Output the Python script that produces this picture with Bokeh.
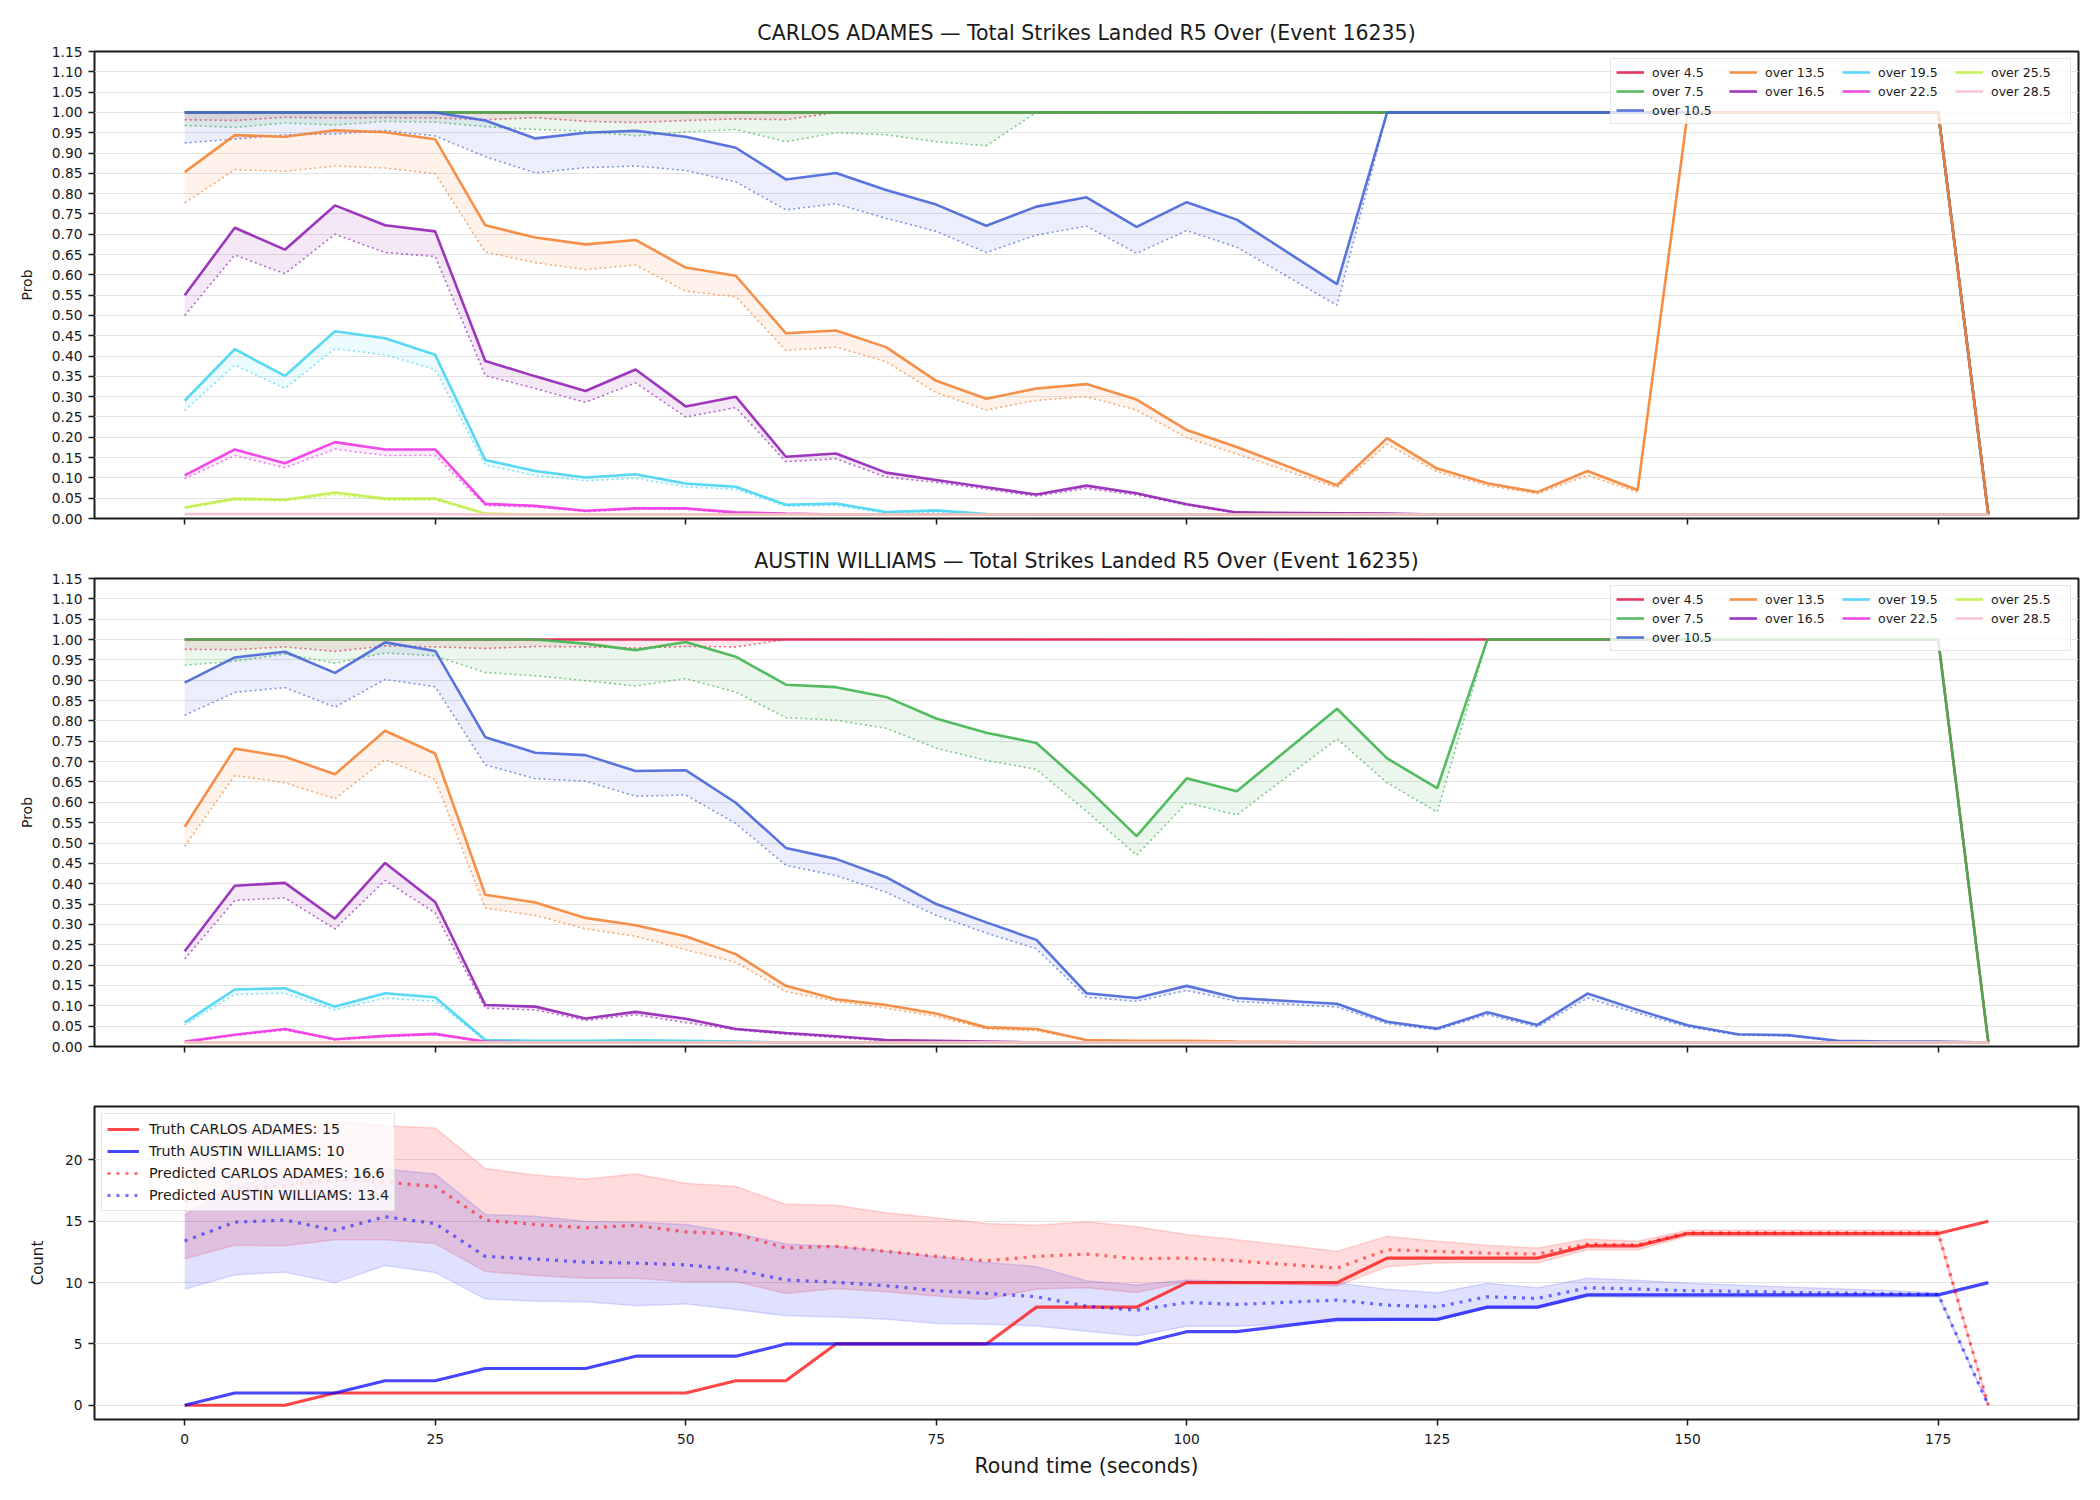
from bokeh.plotting import figure
from bokeh.layouts import column
from bokeh.models import (ColumnDataSource, Legend, LegendItem, FixedTicker,
                          PrintfTickFormatter, Range1d)
from bokeh.embed import file_html
from bokeh.resources import INLINE

FONT = "DejaVu Sans"
INK = "#1a1a1a"

# ---------------------------------------------------------------- data
# round clock (seconds); no sample was taken at 110 s
times = [0, 5, 10, 15, 20, 25, 30, 35, 40, 45, 50, 55, 60, 65, 70, 75, 80, 85,
         90, 95, 100, 105, 115, 120, 125, 130, 135, 140, 145, 150, 155, 160,
         165, 170, 175, 180]

thresholds = [4.5, 7.5, 10.5, 13.5, 16.5, 19.5, 22.5, 25.5, 28.5]
line_colors = ["#e6194b", "#3cb44b", "#4363d8", "#f58231", "#911eb4",
               "#42d4f4", "#f032e6", "#bfef45", "#fabed4"]

# CARLOS ADAMES: probability of going over each line (solid) and lower estimate (dotted)
ca_45 = [1.0] * 35 + [0.01]
ca_45_d = [0.982, 0.980, 0.988, 0.986, 0.987, 0.986, 0.982, 0.987, 0.978, 0.975,
           0.980, 0.984, 0.982] + [1.0] * 22 + [0.01]
ca_75 = [1.0] * 35 + [0.01]
ca_75_d = [0.968, 0.963, 0.974, 0.969, 0.978, 0.976, 0.965, 0.958, 0.954, 0.942,
           0.952, 0.958, 0.928, 0.950, 0.945, 0.928, 0.918] + [1.0] * 18 + [0.01]
ca_105 = [1.0, 1.0, 1.0, 1.0, 1.0, 1.0, 0.980, 0.936, 0.950, 0.955, 0.940, 0.913,
          0.835, 0.851, 0.809, 0.773, 0.721, 0.768, 0.791, 0.718, 0.779, 0.736,
          0.577] + [1.0] * 12 + [0.01]
ca_105_d = [0.925, 0.934, 0.945, 0.947, 0.955, 0.942, 0.891, 0.851, 0.864, 0.868,
            0.857, 0.829, 0.760, 0.775, 0.739, 0.707, 0.655, 0.698, 0.720, 0.653,
            0.709, 0.668, 0.525] + [1.0] * 12 + [0.01]
ca_135 = [0.853, 0.944, 0.940, 0.956, 0.951, 0.934, 0.722, 0.692, 0.675, 0.686,
          0.618, 0.598, 0.456, 0.463, 0.422, 0.339, 0.295, 0.320, 0.331, 0.293,
          0.218, 0.176, 0.082, 0.198, 0.123, 0.087, 0.065, 0.117, 0.070] + [1.0] * 6 + [0.01]
ca_135_d = [0.777, 0.859, 0.855, 0.868, 0.863, 0.849, 0.656, 0.630, 0.613, 0.624,
            0.560, 0.546, 0.414, 0.422, 0.386, 0.310, 0.267, 0.291, 0.300, 0.267,
            0.199, 0.159, 0.076, 0.183, 0.115, 0.081, 0.061, 0.106, 0.065] + [1.0] * 6 + [0.01]
ca_165 = [0.550, 0.716, 0.662, 0.771, 0.722, 0.707, 0.388, 0.350, 0.314, 0.367,
          0.276, 0.300, 0.152, 0.160, 0.113, 0.095, 0.077, 0.059, 0.081, 0.062,
          0.035, 0.015, 0.013, 0.012] + [0.01] * 12
ca_165_d = [0.500, 0.649, 0.603, 0.700, 0.655, 0.645, 0.352, 0.320, 0.286, 0.334,
            0.250, 0.273, 0.140, 0.147, 0.102, 0.089, 0.072, 0.055, 0.074, 0.058,
            0.033, 0.013, 0.011] + [0.01] * 13
ca_195 = [0.290, 0.417, 0.351, 0.461, 0.444, 0.403, 0.144, 0.117, 0.101, 0.109,
          0.086, 0.078, 0.034, 0.037, 0.016, 0.020, 0.011] + [0.01] * 19
ca_195_d = [0.266, 0.378, 0.320, 0.418, 0.403, 0.367, 0.132, 0.106, 0.093, 0.099,
            0.078, 0.072, 0.030, 0.032, 0.013, 0.015] + [0.01] * 20
ca_225 = [0.106, 0.170, 0.136, 0.188, 0.170, 0.170, 0.036, 0.031, 0.019, 0.025,
          0.025, 0.015, 0.012] + [0.01] * 23
ca_225_d = [0.098, 0.155, 0.125, 0.171, 0.155, 0.155, 0.032, 0.028, 0.017, 0.023,
            0.023, 0.013, 0.011] + [0.01] * 23
ca_255 = [0.027, 0.049, 0.046, 0.064, 0.049, 0.049, 0.012] + [0.01] * 29
ca_255_d = [0.025, 0.045, 0.043, 0.058, 0.045, 0.045, 0.011] + [0.01] * 29
ca_285 = [0.011] * 6 + [0.01] * 30
ca_285_d = [0.01] * 36

# AUSTIN WILLIAMS
aw_45 = [1.0] * 35 + [0.01]
aw_45_d = [0.976, 0.975, 0.982, 0.971, 0.984, 0.982, 0.978, 0.983, 0.982, 0.979,
           0.983, 0.982] + [1.0] * 23 + [0.01]
aw_75 = [1.0] * 8 + [0.990, 0.974, 0.994, 0.958, 0.889, 0.883, 0.859, 0.806, 0.771,
                     0.746, 0.636, 0.517, 0.659, 0.627, 0.830, 0.708, 0.635] + [1.0] * 10 + [0.01]
aw_75_d = [0.937, 0.947, 0.964, 0.942, 0.967, 0.960, 0.919, 0.911, 0.899, 0.886,
           0.904, 0.871, 0.808, 0.802, 0.782, 0.733, 0.703, 0.681, 0.578, 0.470,
           0.599, 0.569, 0.756, 0.648, 0.576] + [1.0] * 10 + [0.01]
aw_105 = [0.894, 0.956, 0.970, 0.918, 0.993, 0.972, 0.760, 0.722, 0.716, 0.677,
          0.679, 0.599, 0.488, 0.461, 0.416, 0.350, 0.305, 0.262, 0.131, 0.119,
          0.149, 0.119, 0.105, 0.061, 0.044, 0.084, 0.053, 0.130, 0.090, 0.052,
          0.030, 0.028, 0.014, 0.012, 0.012, 0.01]
aw_105_d = [0.814, 0.870, 0.882, 0.834, 0.902, 0.884, 0.692, 0.658, 0.652, 0.615,
            0.618, 0.548, 0.445, 0.420, 0.379, 0.322, 0.279, 0.240, 0.121, 0.111,
            0.138, 0.111, 0.097, 0.056, 0.041, 0.078, 0.048, 0.119, 0.082, 0.048,
            0.028, 0.026, 0.013, 0.011, 0.011, 0.01]
aw_135 = [0.540, 0.732, 0.712, 0.669, 0.776, 0.720, 0.373, 0.354, 0.316, 0.298,
          0.271, 0.227, 0.149, 0.116, 0.102, 0.081, 0.047, 0.043, 0.016, 0.014,
          0.014, 0.012] + [0.01] * 14
aw_135_d = [0.492, 0.666, 0.648, 0.609, 0.705, 0.656, 0.340, 0.322, 0.289, 0.271,
            0.238, 0.207, 0.135, 0.111, 0.094, 0.074, 0.043, 0.039, 0.015, 0.012,
            0.012, 0.011] + [0.01] * 14
aw_165 = [0.234, 0.395, 0.402, 0.314, 0.451, 0.355, 0.102, 0.098, 0.069, 0.085,
          0.068, 0.043, 0.033, 0.025, 0.016, 0.014, 0.012] + [0.01] * 19
aw_165_d = [0.215, 0.359, 0.365, 0.289, 0.408, 0.328, 0.094, 0.090, 0.064, 0.078,
            0.059, 0.041, 0.030, 0.022, 0.014, 0.012] + [0.01] * 20
aw_195 = [0.059, 0.140, 0.143, 0.098, 0.131, 0.121, 0.016, 0.014, 0.014, 0.015,
          0.014, 0.012] + [0.01] * 24
aw_195_d = [0.053, 0.128, 0.131, 0.090, 0.119, 0.111, 0.015, 0.013, 0.013, 0.014,
            0.013, 0.011] + [0.01] * 24
aw_225 = [0.012, 0.029, 0.043, 0.018, 0.026, 0.031, 0.012] + [0.01] * 29
aw_225_d = [0.011, 0.027, 0.040, 0.016, 0.024, 0.029, 0.011] + [0.01] * 29
aw_255 = [0.01] * 36
aw_255_d = [0.01] * 36
aw_285 = [0.01] * 36
aw_285_d = [0.01] * 36

# cumulative strike counts and predicted totals with their intervals
truth_carlos = [0, 0, 0, 1, 1, 1, 1, 1, 1, 1, 1, 2, 2, 5, 5, 5, 5, 8, 8, 8, 10, 10,
                10, 12, 12, 12, 12, 13, 13, 14, 14, 14, 14, 14, 14, 15]
truth_austin = [0, 1, 1, 1, 2, 2, 3, 3, 3, 4, 4, 4, 5, 5, 5, 5, 5, 5, 5, 5, 6, 6,
                7, 7, 7, 8, 8, 9, 9, 9, 9, 9, 9, 9, 9, 10]
pred_carlos = [16.6, 17.6, 17.9, 18.4, 18.2, 17.84, 15.1, 14.74, 14.47, 14.66,
               14.14, 13.97, 12.82, 12.96, 12.55, 12.14, 11.78, 12.14, 12.33, 11.95,
               12.0, 11.78, 11.18, 12.68, 12.55, 12.4, 12.33, 13.15, 13.07,
               14.05, 14.05, 14.05, 14.05, 14.05, 14.05, 0.0]
pred_austin = [13.4, 14.93, 15.1, 14.27, 15.37, 14.82, 12.14, 11.92, 11.67, 11.59,
               11.45, 11.04, 10.22, 10.03, 9.75, 9.34, 9.12, 8.85, 8.08, 7.75,
               8.38, 8.22, 8.58, 8.16, 8.03, 8.85, 8.71, 9.59, 9.48, 9.34, 9.29,
               9.2, 9.15, 9.1, 9.04, 0.0]
carlos_hi = [22.6, 22.5, 22.3, 23.2, 22.8, 22.6, 19.3, 18.77, 18.44, 18.85, 18.1,
             17.84, 16.38, 16.3, 15.7, 15.29, 14.82, 14.68, 14.96, 14.55, 13.92,
             13.5, 12.55, 13.78, 13.37, 13.04, 12.82, 13.56, 13.37,
             14.27, 14.27, 14.27, 14.27, 14.27, 14.27, 0.0]
carlos_lo = [11.95, 13.04, 13.0, 13.5, 13.5, 13.18, 10.9, 10.58, 10.36, 10.36,
             10.08, 10.08, 9.12, 9.53, 9.26, 8.9, 8.63, 9.48, 9.59, 9.2, 10.08,
             10.0, 9.73, 11.3, 11.6, 11.64, 11.6, 12.68, 12.68,
             13.78, 13.78, 13.78, 13.78, 13.78, 13.78, 0.0]
austin_hi = [15.5, 18.0, 18.6, 18.2, 19.26, 18.85, 15.56, 15.42, 15.0, 14.93, 14.74,
             14.05, 13.15, 12.96, 12.55, 12.14, 11.64, 11.32, 10.16, 9.81, 10.22,
             10.1, 10.0, 9.45, 9.18, 9.95, 9.59, 10.36, 10.2, 9.95, 9.8, 9.65,
             9.5, 9.35, 9.18, 0.0]
austin_lo = [9.45, 10.63, 10.85, 10.0, 11.4, 10.82, 8.66, 8.49, 8.44, 8.11, 8.25,
             7.8, 7.29, 7.2, 7.01, 6.66, 6.6, 6.47, 6.03, 5.64, 6.44, 6.44, 6.8,
             6.93, 6.93, 7.9, 7.9, 8.85, 8.8, 8.8, 8.8, 8.8, 8.8, 8.8, 8.85, 0.0]

x_ticks = [0, 25, 50, 75, 100, 125, 150, 175]
prob_ticks = [round(i * 0.05, 2) for i in range(24)]
count_ticks = [0, 5, 10, 15, 20]
# legend entries listed row by row so the four columns read 4.5/7.5/10.5, 13.5/16.5, ...
legend_order = [4.5, 13.5, 19.5, 25.5, 7.5, 16.5, 22.5, 28.5, 10.5]


def style_axes(p):
    p.outline_line_color = INK
    p.outline_line_width = 2
    p.background_fill_color = "white"
    p.border_fill_color = "white"
    for ax in (p.xaxis[0], p.yaxis[0]):
        ax.axis_line_color = None
        ax.major_tick_line_color = INK
        ax.major_tick_line_width = 1.5
        ax.major_tick_out = 6
        ax.major_tick_in = 0
        ax.minor_tick_line_color = None
        ax.major_label_text_font = FONT
        ax.major_label_text_font_size = "13.8px"
        ax.major_label_text_color = INK
        ax.major_label_standoff = 6
        ax.axis_label_text_font = FONT
        ax.axis_label_text_font_style = "normal"
        ax.axis_label_text_color = INK
    p.xaxis[0].ticker = FixedTicker(ticks=x_ticks)
    p.xgrid.grid_line_color = None
    p.ygrid.grid_line_color = "#e2e2e2"
    p.ygrid.grid_line_width = 1.2


def prob_panel(name, series, height, top, bottom, title_gap):
    p = figure(width=2100, height=height,
               x_range=Range1d(-9, 189), y_range=Range1d(0, 1.15),
               output_backend="svg", toolbar_location=None,
               min_border_left=94, min_border_right=22,
               min_border_top=top, min_border_bottom=bottom,
               title=f"{name} — Total Strikes Landed R5 Over (Event 16235)")
    style_axes(p)
    p.title.text_font = FONT
    p.title.text_font_size = "20.5px"
    p.title.text_font_style = "normal"
    p.title.text_color = INK
    p.title.align = "center"
    p.title.standoff = title_gap
    p.yaxis[0].ticker = FixedTicker(ticks=prob_ticks)
    p.yaxis[0].formatter = PrintfTickFormatter(format="%.2f")
    p.yaxis[0].axis_label = "Prob"
    p.yaxis[0].axis_label_text_font_size = "14px"
    p.yaxis[0].axis_label_standoff = 14
    p.xaxis[0].major_label_overrides = {t: "" for t in x_ticks}
    p.xaxis[0].major_label_text_font_size = "1px"
    p.xaxis[0].major_label_standoff = 0

    solid = {}
    for thr, color, (hi, lo) in zip(thresholds, line_colors, series):
        src = ColumnDataSource(dict(t=times, hi=hi, lo=lo))
        r = p.line("t", "hi", source=src, line_color=color, line_width=2.6, line_alpha=0.88)
        p.line("t", "lo", source=src, line_color=color, line_width=1.6,
               line_alpha=0.65, line_dash="2 3")
        p.varea(x="t", y1="lo", y2="hi", source=src, fill_color=color, fill_alpha=0.1)
        solid[thr] = r

    items = [LegendItem(label=f"over {thr}", renderers=[solid[thr]]) for thr in legend_order]
    legend = Legend(items=items, location="top_right", orientation="horizontal", ncols=4,
                    label_text_font=FONT, label_text_font_size="12.5px", label_text_color=INK,
                    glyph_width=28, glyph_height=16, label_height=16, label_width=74,
                    label_standoff=8, spacing=3, padding=5, margin=7,
                    border_line_color="#cccccc", border_line_width=1.5,
                    background_fill_color="white", background_fill_alpha=0.8)
    p.add_layout(legend)
    return p


carlos_series = [(ca_45, ca_45_d), (ca_75, ca_75_d), (ca_105, ca_105_d),
                 (ca_135, ca_135_d), (ca_165, ca_165_d), (ca_195, ca_195_d),
                 (ca_225, ca_225_d), (ca_255, ca_255_d), (ca_285, ca_285_d)]
austin_series = [(aw_45, aw_45_d), (aw_75, aw_75_d), (aw_105, aw_105_d),
                 (aw_135, aw_135_d), (aw_165, aw_165_d), (aw_195, aw_195_d),
                 (aw_225, aw_225_d), (aw_255, aw_255_d), (aw_285, aw_285_d)]

p1 = prob_panel("CARLOS ADAMES", carlos_series, 538, 51, 20, 13)
p2 = prob_panel("AUSTIN WILLIAMS", austin_series, 528, 40, 20, 12)

# ---------------------------------------------------------------- counts panel
p3 = figure(width=2100, height=434,
            x_range=Range1d(-9, 189), y_range=Range1d(-1.16, 24.36),
            output_backend="svg", toolbar_location=None,
            min_border_left=94, min_border_right=22,
            min_border_top=40, min_border_bottom=81)
style_axes(p3)
p3.yaxis[0].ticker = FixedTicker(ticks=count_ticks)
p3.yaxis[0].axis_label = "Count"
p3.yaxis[0].axis_label_text_font_size = "15px"
p3.yaxis[0].axis_label_standoff = 15
p3.xaxis[0].axis_label = "Round time (seconds)"
p3.xaxis[0].axis_label_text_font_size = "20.5px"
p3.xaxis[0].major_label_standoff = 8
p3.xaxis[0].axis_label_standoff = 7

bands = ColumnDataSource(dict(t=times, c_hi=carlos_hi, c_lo=carlos_lo,
                              a_hi=austin_hi, a_lo=austin_lo))
p3.varea(x="t", y1="c_lo", y2="c_hi", source=bands, fill_color="#ff0000", fill_alpha=0.14)
p3.line("t", "c_hi", source=bands, line_color="#ff0000", line_alpha=0.14, line_width=1.5)
p3.line("t", "c_lo", source=bands, line_color="#ff0000", line_alpha=0.14, line_width=1.5)
p3.varea(x="t", y1="a_lo", y2="a_hi", source=bands, fill_color="#0000ff", fill_alpha=0.12)
p3.line("t", "a_hi", source=bands, line_color="#0000ff", line_alpha=0.12, line_width=1.5)
p3.line("t", "a_lo", source=bands, line_color="#0000ff", line_alpha=0.12, line_width=1.5)

counts = ColumnDataSource(dict(t=times, tc=truth_carlos, ta=truth_austin,
                               pc=pred_carlos, pa=pred_austin))
r_tc = p3.line("t", "tc", source=counts, line_color="#ff0000", line_alpha=0.72, line_width=3.2)
r_ta = p3.line("t", "ta", source=counts, line_color="#0000ff", line_alpha=0.72, line_width=3.2)
r_pc = p3.line("t", "pc", source=counts, line_color="#ff0000", line_alpha=0.55,
               line_width=3.2, line_dash="3 6")
r_pa = p3.line("t", "pa", source=counts, line_color="#0000ff", line_alpha=0.55,
               line_width=3.2, line_dash="3 6")

count_legend = Legend(items=[
    LegendItem(label=f"Truth CARLOS ADAMES: {truth_carlos[-1]}", renderers=[r_tc]),
    LegendItem(label=f"Truth AUSTIN WILLIAMS: {truth_austin[-1]}", renderers=[r_ta]),
    LegendItem(label=f"Predicted CARLOS ADAMES: {pred_carlos[0]:.1f}", renderers=[r_pc]),
    LegendItem(label=f"Predicted AUSTIN WILLIAMS: {pred_austin[0]:.1f}", renderers=[r_pa]),
], location="top_left", orientation="vertical",
    label_text_font=FONT, label_text_font_size="14.3px", label_text_color=INK,
    glyph_width=32, glyph_height=20, label_height=20, label_standoff=10,
    spacing=2, padding=5, margin=7,
    border_line_color="#cccccc", border_line_width=1.5,
    background_fill_color="white", background_fill_alpha=0.8)
p3.add_layout(count_legend)

layout = column(p1, p2, p3, spacing=0)
open("out.html", "w").write(file_html(layout, INLINE))
